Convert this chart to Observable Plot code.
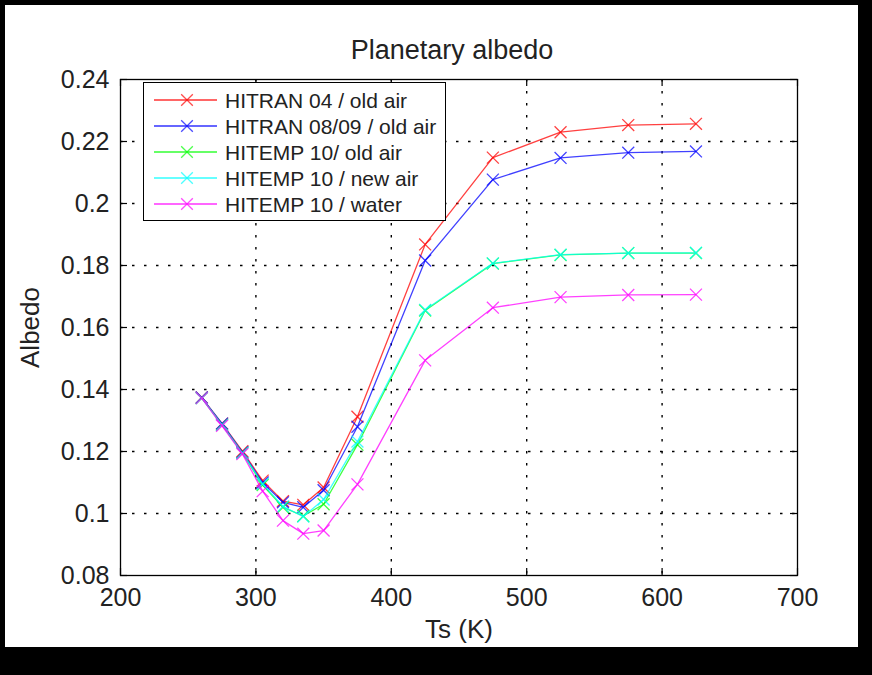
<!DOCTYPE html>
<html>
<head>
<meta charset="utf-8">
<script src="https://cdn.jsdelivr.net/npm/d3@7"></script>
<script src="https://cdn.jsdelivr.net/npm/@observablehq/plot@0.6"></script>
<style>
  html, body { margin: 0; padding: 0; background: #000; }
  #wrap { position: relative; width: 872px; height: 675px; overflow: hidden; background: #000; }
  #paper { position: absolute; left: 5px; top: 5px; width: 853px; height: 642px; background: #fff; }
  #chart { position: absolute; left: 0; top: 0; }
  #legend { position: absolute; left: 143px; top: 82px; width: 303px; height: 139px; background: #fff; border: 1.5px solid #000; box-sizing: border-box; }
  #legend svg { display: block; }
</style>
</head>
<body>
<div id="wrap"><div id="paper"></div><div id="chart"></div><div id="legend"></div></div>
<script>
const temps = [260, 275, 290, 305, 320, 335, 350, 375, 425, 475, 525, 575, 625];
const hitran04 = [0.1374, 0.1290, 0.1201, 0.1106, 0.1040, 0.1028, 0.1084, 0.1312, 0.1868, 0.2148, 0.2230, 0.2253, 0.2257];
const hitran0809 = [0.1374, 0.1290, 0.1198, 0.1100, 0.1036, 0.1020, 0.1075, 0.1280, 0.1816, 0.2077, 0.2147, 0.2164, 0.2168];
const hitempOld = [0.1372, 0.1286, 0.1195, 0.1092, 0.1020, 0.0992, 0.1030, 0.1222, 0.1655, 0.1806, 0.1834, 0.1840, 0.1840];
const hitempNew = [0.1372, 0.1286, 0.1195, 0.1095, 0.1023, 0.0990, 0.1045, 0.1232, 0.1657, 0.1807, 0.1835, 0.1840, 0.1841];
const hitempWater = [0.1372, 0.1283, 0.1192, 0.1072, 0.0977, 0.0935, 0.0945, 0.1094, 0.1494, 0.1664, 0.1698, 0.1705, 0.1706];

const seriesNames = ["HITRAN 04 / old air", "HITRAN 08/09 / old air", "HITEMP 10/ old air", "HITEMP 10 / new air", "HITEMP 10 / water"];
const seriesColors = ["#ff0000", "#0000ff", "#00ff00", "#00ffff", "#ff00ff"];
const seriesValues = [hitran04, hitran0809, hitempOld, hitempNew, hitempWater];

const xTicks = [200, 300, 400, 500, 600, 700];
const yTicks = [0.08, 0.1, 0.12, 0.14, 0.16, 0.18, 0.2, 0.22, 0.24];
const xGrid = [300, 400, 500, 600];
const yGrid = [0.1, 0.12, 0.14, 0.16, 0.18, 0.2, 0.22];

const rows = [];
seriesNames.forEach((name, i) => {
  temps.forEach((t, j) => rows.push({series: name, t, v: seriesValues[i][j]}));
});

const W = 872, H = 675;
const mL = 120, mR = 75, mT = 79, mB = 100;
const innerW = W - mL - mR, innerH = H - mT - mB;
const dash = "2.5,9.5";

const marks = [
  Plot.ruleX(xGrid, {x: d => d, stroke: "#000", strokeWidth: 1.4, strokeDasharray: dash}),
  Plot.ruleY(yGrid, {y: d => d, stroke: "#000", strokeWidth: 1.4, strokeDasharray: dash}),
  Plot.tickX(xTicks, {x: d => d, insetTop: innerH - 7, stroke: "#000", strokeWidth: 1.2}),
  Plot.tickX(xTicks, {x: d => d, insetBottom: innerH - 7, stroke: "#000", strokeWidth: 1.2}),
  Plot.tickY(yTicks, {y: d => d, insetRight: innerW - 7, stroke: "#000", strokeWidth: 1.2}),
  Plot.tickY(yTicks, {y: d => d, insetLeft: innerW - 7, stroke: "#000", strokeWidth: 1.2}),
];
seriesNames.forEach((name, i) => {
  const d = rows.filter(r => r.series === name);
  marks.push(Plot.line(d, {x: "t", y: "v", stroke: seriesColors[i], strokeWidth: 1.3, strokeOpacity: 0.75}));
  marks.push(Plot.dot(d, {x: "t", y: "v", symbol: "times", r: 5.5, stroke: seriesColors[i], strokeWidth: 1.3, strokeOpacity: 0.75}));
});
marks.push(Plot.frame({stroke: "#000", strokeWidth: 1.3}));
marks.push(Plot.text(["Planetary albedo"], {frameAnchor: "top", dx: -7, dy: -21, fontSize: 27, fill: "#222", lineAnchor: "bottom"}));
marks.push(Plot.text(["Ts (K)"], {frameAnchor: "bottom", dy: 62, fontSize: 26, fill: "#222", lineAnchor: "bottom"}));
marks.push(Plot.text(["Albedo"], {frameAnchor: "left", textAnchor: "middle", dx: -90, rotate: -90, fontSize: 26, fill: "#222"}));

const chart = Plot.plot({
  width: W, height: H,
  marginLeft: mL, marginRight: mR, marginTop: mT, marginBottom: mB,
  style: {background: "transparent", fontFamily: "'Liberation Sans', Arial, sans-serif", fontSize: "25px", color: "#222"},
  x: {domain: [200, 700], ticks: xTicks, tickSize: 0, tickPadding: 13, label: null, tickFormat: d => String(d)},
  y: {domain: [0.08, 0.24], ticks: yTicks, tickSize: 0, tickPadding: 11, label: null, tickFormat: d => String(d)},
  marks
});
document.getElementById("chart").appendChild(chart);

// legend
const lg = d3.select("#legend").append("svg").attr("width", 300).attr("height", 136);
seriesNames.forEach((name, i) => {
  const y = 17 + i * 26;
  const g = lg.append("g").attr("transform", `translate(0,${y})`);
  g.append("line").attr("x1", 10).attr("x2", 73).attr("y1", 0).attr("y2", 0)
    .attr("stroke", seriesColors[i]).attr("stroke-width", 1.3).attr("stroke-opacity", 0.8);
  g.append("path").attr("d", d3.symbol(d3.symbolTimes, 90)()).attr("transform", "translate(43,0)")
    .attr("fill", "none").attr("stroke", seriesColors[i]).attr("stroke-width", 1.3).attr("stroke-opacity", 0.7);
  g.append("text").attr("x", 81).attr("y", 0).attr("dy", "0.36em")
    .attr("font-family", "'Liberation Sans', Arial, sans-serif").attr("font-size", 21).attr("fill", "#222")
    .text(name);
});
</script>
</body>
</html>
